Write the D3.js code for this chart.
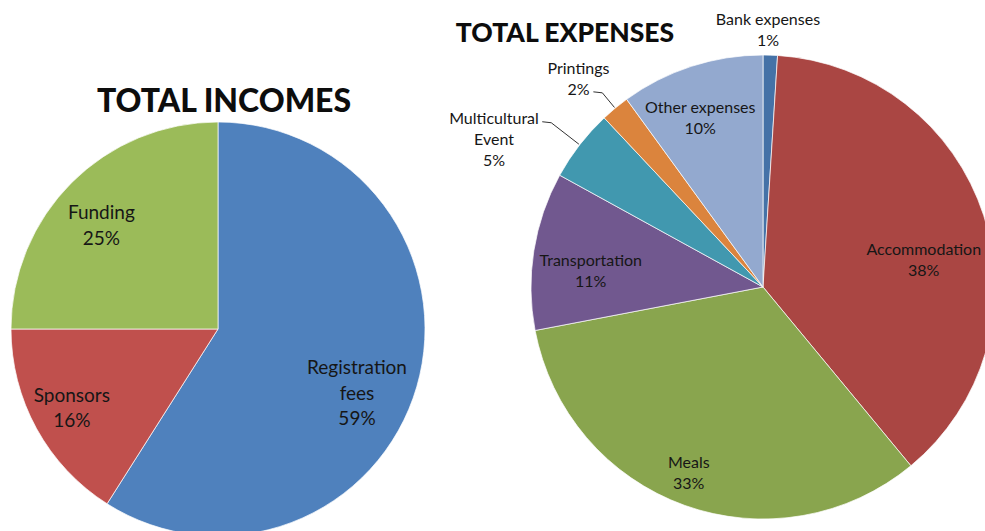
<!DOCTYPE html>
<html>
<head>
<meta charset="utf-8">
<script src="https://cdn.jsdelivr.net/npm/d3@7"></script>
<style>
  body { margin: 0; background: #fff; }
  text { font-family: Lato, "Open Sans", sans-serif; fill: #161616; }
</style>
</head>
<body>
<script>
// --- data ---
var incomeNames = ["Registration\nfees", "Sponsors", "Funding"];
var incomeValues = [59, 16, 25];

var expenseNames = ["Bank expenses", "Accommodation", "Meals", "Transportation",
                    "Multicultural\nEvent", "Printings", "Other expenses"];
var expenseValues = [1, 38, 33, 11, 5, 2, 10];

// --- look ---
var incomeColors = ["#4F81BD", "#C0504D", "#9BBB59"];
var expenseColors = ["#4572A7", "#AA4643", "#89A54E", "#71588F", "#4198AF", "#DB843D", "#93A9CF"];

// label placement: [distance from centre, angle nudge in degrees]
var incomeLabelPos = [[153, 8.5], [166, 0.5], [156, -3.4]];
var expenseLabelPos = [[257, -0.7], [163, 8.5], [200, 2], [173, -3.7], [307, -9], [278, -2], [180, -2.4]];
// leader lines (radial length beyond the rim, 0 = none)
var expenseLeader = [0, 0, 0, 0, 36, 20, 0];

var width = 985, height = 531;

var svg = d3.select("body").append("svg")
  .attr("width", width)
  .attr("height", height);

function drawPie(cfg) {
  var pie = d3.pie().sort(null).value(function (d) { return d; });
  var arcs = pie(cfg.values);
  var arc = d3.arc().innerRadius(0).outerRadius(cfg.r);

  var g = svg.append("g").attr("transform", "translate(" + cfg.cx + "," + cfg.cy + ")");

  g.selectAll("path")
    .data(arcs)
    .enter()
    .append("path")
    .attr("d", arc)
    .style("fill", function (d, i) { return cfg.colors[i]; })
    .style("stroke", "#fff")
    .style("stroke-width", 0.7);

  // point at a given angle (radians, clockwise from 12 o'clock) and distance
  function pt(a, dist) { return [dist * Math.sin(a), -dist * Math.cos(a)]; }
  function mid(d) { return (d.startAngle + d.endAngle) / 2; }

  // leader lines
  if (cfg.leader) {
    g.selectAll("path.leader")
      .data(arcs.filter(function (d, i) { return cfg.leader[i] > 0; }))
      .enter()
      .append("path")
      .attr("class", "leader")
      .attr("d", function (d) {
        var a = mid(d);
        var p0 = pt(a, cfg.r + 1);
        var p1 = pt(a, cfg.r + cfg.leader[d.index]);
        return "M" + p0 + "L" + p1 + "L" + [p1[0] - 9, p1[1] - 1];
      })
      .style("fill", "none")
      .style("stroke", "#333")
      .style("stroke-width", 1);
  }

  // labels
  g.selectAll("text.lbl")
    .data(arcs)
    .enter()
    .append("text")
    .attr("class", "lbl")
    .attr("text-anchor", "middle")
    .style("font-size", cfg.fontSize + "px")
    .each(function (d, i) {
      var lp = cfg.labelPos[i];
      var a = mid(d) + lp[1] * Math.PI / 180;
      var c = pt(a, lp[0]);
      var lines = cfg.names[i].split("\n").concat([d.value + "%"]);
      var top = c[1] - (lines.length - 1) * cfg.lineH / 2;
      var t = d3.select(this);
      lines.forEach(function (ln, k) {
        t.append("tspan")
          .attr("x", c[0])
          .attr("y", top + k * cfg.lineH)
          .attr("dy", "0.35em")
          .text(ln);
      });
    });

  svg.append("text")
    .attr("x", cfg.titleX)
    .attr("y", cfg.titleY)
    .attr("text-anchor", "middle")
    .style("font-size", cfg.titleSize + "px")
    .style("font-weight", "900")
    .style("fill", "#0d0d0d")
    .text(cfg.title);
}

drawPie({
  names: incomeNames, values: incomeValues, colors: incomeColors,
  cx: 218, cy: 329, r: 207,
  labelPos: incomeLabelPos, fontSize: 19, lineH: 25.5,
  title: "TOTAL INCOMES", titleX: 224, titleY: 112, titleSize: 32
});

drawPie({
  names: expenseNames, values: expenseValues, colors: expenseColors,
  cx: 763, cy: 287, r: 232,
  labelPos: expenseLabelPos, leader: expenseLeader, fontSize: 16, lineH: 21,
  title: "TOTAL EXPENSES", titleX: 565, titleY: 42, titleSize: 26.5
});
</script>
</body>
</html>
